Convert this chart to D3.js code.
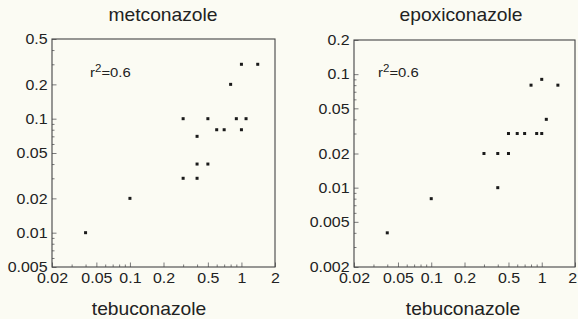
<!DOCTYPE html>
<html><head><meta charset="utf-8">
<script src="https://cdn.jsdelivr.net/npm/d3@7"></script>
<style>
html,body{margin:0;padding:0;background:#fbfbf3;}
svg{display:block;}
text{font-family:"Liberation Sans",Arial,sans-serif;fill:#222;}
</style></head><body>
<script>
// ---- data ----
const xLabel = "tebuconazole";
const titles = ["metconazole", "epoxiconazole"];
const r2Label = ["r", "2", "=0.6"];

const metX = [0.04, 0.1, 0.3, 0.4, 0.4, 0.5, 0.3, 0.4, 0.5, 0.6, 0.7, 0.8, 0.9, 1.0, 1.0, 1.1, 1.4];
const metY = [0.01, 0.02, 0.03, 0.03, 0.04, 0.04, 0.1, 0.07, 0.1, 0.08, 0.08, 0.2, 0.1, 0.08, 0.3, 0.1, 0.3];

const epoX = [0.04, 0.1, 0.4, 0.3, 0.4, 0.5, 0.5, 0.6, 0.7, 0.9, 1.0, 1.1, 0.8, 1.0, 1.4];
const epoY = [0.004, 0.008, 0.01, 0.02, 0.02, 0.02, 0.03, 0.03, 0.03, 0.03, 0.03, 0.04, 0.08, 0.09, 0.08];

const xTicks = [0.02, 0.05, 0.1, 0.2, 0.5, 1, 2];
const metYTicks = [0.005, 0.01, 0.02, 0.05, 0.1, 0.2, 0.5];
const epoYTicks = [0.002, 0.005, 0.01, 0.02, 0.05, 0.1, 0.2];
const xDomain = [0.02, 2];
const metYDomain = [0.005, 0.5];
const epoYDomain = [0.002, 0.2];

// ---- drawing ----
const W = 578, H = 319, SX = 1.1;
const svg = d3.select("body").append("svg").attr("width", W).attr("height", H);
svg.append("rect").attr("width", W).attr("height", H).attr("fill", "#fbfbf3");

function minorTicks(domain, majors) {
  const out = [];
  const lo = Math.floor(Math.log10(domain[0])), hi = Math.ceil(Math.log10(domain[1]));
  for (let e = lo; e <= hi; e++) {
    for (let m = 1; m <= 9; m++) {
      const v = +(m * Math.pow(10, e)).toPrecision(6);
      if (v >= domain[0] * 0.999 && v <= domain[1] * 1.001 &&
          !majors.some(t => Math.abs(t - v) / v < 1e-6)) out.push(v);
    }
  }
  return out;
}

const fmt = d => String(d);

const panels = [
  {title: titles[0], xs: metX, ys: metY, yTicks: metYTicks, yDomain: metYDomain,
   x0: 52, x1: 275, y0: 267, y1: 39, tx: 163, lx: 149, rx: 90},
  {title: titles[1], xs: epoX, ys: epoY, yTicks: epoYTicks, yDomain: epoYDomain,
   x0: 354, x1: 575, y0: 267, y1: 40, tx: 461, lx: 463, rx: 378}
];

panels.forEach((p, pi) => {
  const x = d3.scaleLog().domain(xDomain).range([p.x0, p.x1]);
  const y = d3.scaleLog().domain(p.yDomain).range([p.y0, p.y1]);
  const g = svg.append("g");

  const xmin = g.append("g").attr("transform", `translate(0,${p.y0})`)
    .call(d3.axisBottom(x).tickValues(minorTicks(xDomain, xTicks)).tickSize(-2.5).tickFormat(""));
  const ymin = g.append("g").attr("transform", `translate(${p.x0},0)`)
    .call(d3.axisLeft(y).tickValues(minorTicks(p.yDomain, p.yTicks)).tickSize(-2.5).tickFormat(""));
  const xa = g.append("g").attr("transform", `translate(0,${p.y0})`)
    .call(d3.axisBottom(x).tickValues(xTicks).tickSize(-4.5).tickPadding(6).tickFormat(fmt));
  const ya = g.append("g").attr("transform", `translate(${p.x0},0)`)
    .call(d3.axisLeft(y).tickValues(p.yTicks).tickSize(-4.5).tickPadding(4).tickFormat(fmt));

  [xmin, ymin, xa, ya].forEach(a => {
    a.select(".domain").remove();
    a.selectAll(".tick line").attr("stroke", "#7a7a7a").attr("stroke-width", 1);
    a.selectAll("text").attr("font-family", "Liberation Sans, Arial, sans-serif")
      .attr("font-size", 14.5).attr("fill", "#222");
  });
  xa.selectAll("text").attr("transform", `scale(${SX},1)`);
  ya.selectAll("text").attr("transform", `scale(${SX},1)`).attr("dy", "0.33em");
  if (pi === 1) {
    xa.selectAll(".tick").filter(d => d === 2).select("text").attr("x", -2.5);
  }

  g.append("rect")
    .attr("x", p.x0).attr("y", p.y1)
    .attr("width", p.x1 - p.x0).attr("height", p.y0 - p.y1)
    .attr("fill", "none").attr("stroke", "#444").attr("stroke-width", 1.1);

  g.append("g").selectAll("rect").data(p.xs.map((v, i) => [v, p.ys[i]])).join("rect")
    .attr("x", d => x(d[0]) - 1.5).attr("y", d => y(d[1]) - 1.5)
    .attr("width", 3).attr("height", 3).attr("fill", "#1a1a1a");

  g.append("text").attr("transform", `translate(${p.tx},21) scale(${SX},1)`)
    .attr("text-anchor", "middle").attr("font-size", 17.5).text(p.title);
  g.append("text").attr("transform", `translate(${p.lx},315) scale(${SX},1)`)
    .attr("text-anchor", "middle").attr("font-size", 17.5).text(xLabel);
  const r = g.append("text").attr("transform", `translate(${p.rx},77) scale(${SX},1)`)
    .attr("font-size", 13.5);
  r.append("tspan").text(r2Label[0]);
  r.append("tspan").attr("font-size", 10.5).attr("dy", -5).text(r2Label[1]);
  r.append("tspan").attr("dy", 5).text(r2Label[2]);
});
</script>
</body></html>
